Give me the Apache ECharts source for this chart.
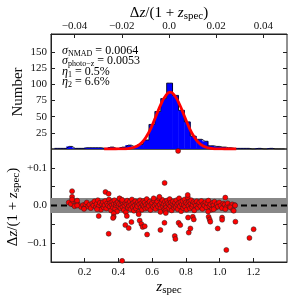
<!DOCTYPE html>
<html><head><meta charset="utf-8">
<script src="https://cdn.jsdelivr.net/npm/echarts@6/dist/echarts.min.js"></script>
<style>html,body{margin:0;padding:0;background:#fff}#c{width:299px;height:295px}</style>
</head><body><div id="c"></div>
<script>
// ---- Histogram (top panel) ----
const binWidth = 0.0025;
const binCenters = [-0.04725,-0.04475,-0.04225,-0.03975,-0.03725,-0.03475,-0.03225,-0.02975,-0.02725,-0.02475,
  -0.02225,-0.01975,-0.01725,-0.01475,-0.01225,-0.00975,-0.00725,-0.00475,-0.00225,0.00025,
  0.00275,0.00525,0.00775,0.01025,0.01275,0.01525,0.01775,0.02025,0.02275,0.02525,
  0.02775,0.03025,0.03275,0.03525,0.03775,0.04025,0.04275,0.04525,0.04775];
const binCounts = [1,1,4,1,1,2,2,2,1,3,
  1,3,6,4,7,14,38,58,78,102,
  83,60,42,20,15,12,5,4,3,2,
  1,1,1,0,1,0,1,0,0];
// Fitted gaussian curve
const fitX = [-0.0275,-0.0255,-0.0235,-0.0215,-0.0195,-0.0175,-0.0155,-0.0135,-0.0115,-0.0095,-0.0075,-0.0055,-0.0035,-0.0015,0.0005,
  0.0025,0.0045,0.0065,0.0085,0.0105,0.0125,0.0145,0.0165,0.0185,0.0205,0.0225,0.0245,0.0265,0.0285];
const fitY = [0,0.004,0.02,0.07,0.2,0.7,1.9,4.7,10.2,19.7,33.6,51.0,68.6,82.0,88,
  82.0,68.6,51.0,33.6,19.7,10.2,4.7,1.9,0.7,0.2,0.07,0.02,0.004,0];
const topTicks = [-0.04,-0.02,0,0.02,0.04];
const countTicks = [25,50,75,100,125,150];
const stats = [
  ['σ','NMAD',' = 0.0064'],
  ['σ','photo−z',' = 0.0053'],
  ['η','1',' = 0.5%'],
  ['η','2',' = 6.6%']
];
// ---- Scatter (bottom panel) ----
const zTicks = [0.2,0.4,0.6,0.8,1.0,1.2];
const dzTickMarks = [-0.1,-0.05,0,0.05,0.1];
const dzTickLabels = [-0.1,0,0.1];
const bandLimits = [-0.02, 0.02];
const zeroLine = [[0,0],[1.4,0]];
const scatterPoints = [
  [0.105,0.008],[0.118,0.004],[0.13,0.012],[0.14,-0.002],[0.152,0.009],[0.16,0.003],[0.178,-0.004],[0.19,0.001],[0.198,-0.006],
  [0.205,0.003],[0.212,0.008],[0.22,-0.003],[0.228,0.002],[0.236,-0.007],[0.245,0.006],[0.252,0.0],[0.258,0.011],[0.266,-0.004],
  [0.27,0.004],[0.278,0.014],[0.284,-0.001],[0.29,0.007],[0.296,-0.011],[0.302,0.003],[0.308,0.009],[0.312,-0.005],[0.318,0.001],
  [0.322,0.012],[0.328,-0.008],[0.332,0.005],[0.338,0.0],[0.344,0.016],[0.348,-0.003],[0.352,0.007],[0.356,-0.013],[0.36,0.002],
  [0.364,0.01],[0.368,-0.006],[0.372,0.004],[0.376,0.014],[0.38,-0.009],[0.384,0.001],[0.388,0.006],[0.392,-0.016],[0.396,0.009],
  [0.40,-0.002],[0.404,0.004],[0.408,0.018],[0.412,-0.007],[0.416,0.002],[0.42,0.011],[0.424,-0.004],[0.428,0.006],[0.432,-0.012],
  [0.436,0.0],[0.44,0.008],[0.444,-0.018],[0.448,0.003],[0.452,0.013],[0.456,-0.006],[0.46,0.005],[0.464,-0.001],[0.468,0.01],
  [0.472,-0.01],[0.476,0.002],[0.48,0.016],[0.484,-0.004],[0.488,0.007],[0.492,-0.014],[0.496,0.0],[0.50,0.011],[0.504,-0.008],
  [0.508,0.004],[0.512,-0.002],[0.516,0.009],[0.52,-0.017],[0.524,0.003],[0.528,0.014],[0.532,-0.005],[0.536,0.006],[0.54,-0.011],
  [0.544,0.001],[0.548,0.012],[0.552,-0.003],[0.556,0.008],[0.56,-0.008],[0.564,0.002],[0.568,0.017],[0.572,-0.006],[0.576,0.005],
  [0.58,-0.001],[0.585,0.01],[0.59,-0.012],[0.595,0.003],[0.60,0.007],[0.605,-0.004],[0.61,0.013],[0.615,0.0],[0.62,-0.009],
  [0.625,0.005],[0.63,0.011],[0.635,-0.003],[0.64,0.019],[0.645,0.002],[0.65,-0.007],[0.655,0.008],[0.66,0.015],[0.664,-0.002],
  [0.668,0.004],[0.672,-0.011],[0.676,0.01],[0.68,0.001],[0.684,-0.005],[0.688,0.013],[0.692,0.006],[0.696,-0.009],[0.70,0.003],
  [0.704,0.017],[0.708,-0.001],[0.712,0.008],[0.716,-0.013],[0.72,0.004],[0.724,0.011],[0.728,-0.006],[0.732,0.0],[0.736,0.007],
  [0.74,-0.004],[0.744,0.014],[0.748,0.002],[0.752,-0.01],[0.756,0.006],[0.76,0.019],[0.764,-0.002],[0.768,0.009],[0.772,-0.015],
  [0.776,0.003],[0.78,0.012],[0.784,-0.007],[0.788,0.001],[0.792,0.016],[0.796,-0.003],[0.80,0.008],[0.804,-0.011],[0.808,0.004],
  [0.812,0.021],[0.816,-0.001],[0.82,0.01],[0.824,-0.008],[0.828,0.005],[0.832,0.014],[0.836,-0.004],[0.84,0.002],[0.845,0.009],
  [0.85,-0.013],[0.855,0.006],[0.86,0.0],[0.865,0.011],[0.87,-0.006],[0.875,0.003],[0.88,0.008],[0.886,-0.002],[0.892,0.012],
  [0.898,-0.009],[0.904,0.004],[0.91,0.0],[0.916,0.009],[0.922,-0.005],[0.928,0.006],[0.934,0.013],[0.94,-0.002],[0.946,0.003],
  [0.952,-0.011],[0.958,0.007],[0.964,0.001],[0.97,0.01],[0.976,-0.006],[0.984,0.004],[0.99,-0.003],[0.998,0.008],[1.006,0.0],
  [1.014,-0.007],[1.022,0.005],[1.03,0.002],[1.04,-0.004],[1.048,0.006],[1.06,-0.002],[1.075,0.003],[1.09,0.001],
  // outliers
  [0.125,0.038],[0.125,0.023],[0.125,0.016],[0.155,0.013],[0.155,0.0],[0.196,-0.009],[0.273,-0.010],[0.283,-0.028],
  [0.323,0.036],[0.342,0.031],[0.342,-0.075],[0.372,-0.021],[0.372,-0.030],[0.368,-0.033],[0.406,0.019],[0.422,0.015],
  [0.422,-0.147],[0.441,-0.052],[0.461,-0.060],[0.477,-0.044],[0.45,-0.028],[0.520,-0.023],[0.526,-0.040],[0.536,-0.049],
  [0.544,-0.057],[0.556,-0.055],[0.570,-0.077],[0.609,0.019],[0.643,0.023],[0.649,-0.017],[0.649,-0.065],[0.674,0.060],
  [0.673,-0.046],[0.679,-0.015],[0.681,-0.020],[0.754,0.145],[0.734,-0.081],[0.738,-0.089],[0.757,-0.046],[0.767,-0.052],
  [0.811,0.028],[0.813,-0.032],[0.817,-0.072],[0.827,-0.061],[0.841,-0.030],[0.847,-0.037],[0.932,-0.016],[0.935,-0.030],
  [0.941,-0.037],[0.945,-0.043],[0.965,-0.010],[0.989,-0.061],[1.015,-0.032],[1.015,-0.038],[1.034,0.021],[1.034,-0.010],
  [1.040,-0.118],[1.064,-0.005],[1.080,-0.012],[1.084,-0.014],[1.094,-0.043],[1.092,0.0],[1.177,-0.086],[1.202,-0.063]
];

const FONT = '"Liberation Serif","DejaVu Serif",serif';
const chart = echarts.init(document.getElementById('c'), null, {renderer:'canvas'});
const G = {left:51, right:12};
const stepData = [[binCenters[0]-binWidth/2, binCounts[0]]].concat(
  binCenters.map((c,i)=>[c,binCounts[i]]),
  [[binCenters[binCenters.length-1]+binWidth/2, binCounts[binCounts.length-1]]]);
const labelStyle = {fontFamily:FONT, fontSize:11, color:'#111'};
const richSub = {
  g:{fontFamily:FONT,fontSize:12,fontStyle:'italic',color:'#111'},
  sub:{fontFamily:FONT,fontSize:8,color:'#111',padding:[6,0,0,0]},
  n:{fontFamily:FONT,fontSize:12,color:'#111'}
};
const richTitle = {
  n:{fontFamily:FONT,fontSize:15,color:'#111'},
  z:{fontFamily:FONT,fontSize:15,fontStyle:'italic',color:'#111'},
  sub:{fontFamily:FONT,fontSize:11,color:'#111',padding:[7,0,0,0]}
};
const fmtDz = v => v===0 ? '0.0' : (v<0?'−':'') + Math.abs(v).toFixed(2);
const fmtDz2 = v => v===0 ? '0.0' : (v<0?'−':'+') + Math.abs(v).toFixed(1);
const axLine = {show:true,onZero:false,lineStyle:{color:'#222'}};

const option = {
  animation:false,
  grid:[
    {left:G.left,right:G.right,top:34,height:115,show:true,borderColor:'#222',borderWidth:1,backgroundColor:'transparent'},
    {left:G.left,right:G.right,top:149,height:113,show:true,borderColor:'#222',borderWidth:1,backgroundColor:'transparent'}
  ],
  xAxis:[
    {type:'value',gridIndex:0,position:'top',min:-0.05,max:0.05,
     axisLine:axLine,splitLine:{show:false},
     axisTick:{inside:true,length:4,customValues:topTicks,lineStyle:{color:'#222'}},
     axisLabel:{customValues:topTicks,formatter:fmtDz,margin:2,...labelStyle}},
    {type:'value',gridIndex:1,position:'bottom',min:0,max:1.4,
     axisLine:axLine,splitLine:{show:false},
     axisTick:{inside:true,length:4,customValues:zTicks,lineStyle:{color:'#222'}},
     axisLabel:{customValues:zTicks,formatter:v=>v.toFixed(1),margin:5,...labelStyle}}
  ],
  yAxis:[
    {type:'value',gridIndex:0,min:0,max:178,
     axisLine:axLine,splitLine:{show:false},
     axisTick:{inside:true,length:4,customValues:countTicks,lineStyle:{color:'#222'}},
     axisLabel:{customValues:countTicks,margin:4,...labelStyle}},
    {type:'value',gridIndex:0,position:'right',min:0,max:178,
     axisLine:{show:false,onZero:false},splitLine:{show:false},
     axisTick:{inside:true,length:4,customValues:countTicks,lineStyle:{color:'#222'}},
     axisLabel:{show:false}},
    {type:'value',gridIndex:1,min:-0.15,max:0.15,
     axisLine:axLine,splitLine:{show:false},
     axisTick:{inside:true,length:4,customValues:dzTickMarks,lineStyle:{color:'#222'}},
     axisLabel:{customValues:dzTickLabels,formatter:fmtDz2,margin:4,...labelStyle}},
    {type:'value',gridIndex:1,position:'right',min:-0.15,max:0.15,
     axisLine:{show:false,onZero:false},splitLine:{show:false},
     axisTick:{inside:true,length:4,customValues:dzTickMarks,lineStyle:{color:'#222'}},
     axisLabel:{show:false}}
  ],
  series:[
    {type:'custom',xAxisIndex:0,yAxisIndex:0,clip:true,z:1,
     data:binCenters.map((c,i)=>[c,binCounts[i]]),
     renderItem:(params,api)=>{
       const c=api.value(0),h=api.value(1);
       const p0=api.coord([c-binWidth/2,h]);
       const p1=api.coord([c+binWidth/2,0]);
       return {type:'rect',shape:{x:p0[0],y:p0[1],width:p1[0]-p0[0]+0.4,height:p1[1]-p0[1]},style:{fill:'#0000ff'}};
     }},
    {type:'line',xAxisIndex:0,yAxisIndex:0,step:'middle',data:stepData,showSymbol:false,symbol:'none',z:2,clip:true,
     lineStyle:{color:'#000',width:0.8}},
    {type:'line',xAxisIndex:0,yAxisIndex:0,data:fitX.map((x,i)=>[x,fitY[i]]),smooth:true,symbol:'none',z:3,clip:true,
     lineStyle:{color:'#ff0000',width:2.8}},
    {type:'custom',xAxisIndex:1,yAxisIndex:2,z:1,data:[[0,bandLimits[0],1.4,bandLimits[1]]],
     renderItem:(params,api)=>{
       const a=api.coord([api.value(0),api.value(3)]);
       const b=api.coord([api.value(2),api.value(1)]);
       return {type:'rect',shape:{x:a[0],y:a[1],width:b[0]-a[0],height:b[1]-a[1]},style:{fill:'#888888'}};
     }},
    {type:'line',xAxisIndex:1,yAxisIndex:2,data:zeroLine,symbol:'none',z:2,
     lineStyle:{color:'#000',width:2,type:[6,4]}},
    {type:'scatter',xAxisIndex:1,yAxisIndex:2,data:scatterPoints,symbolSize:5,z:3,clip:false,
     itemStyle:{color:'#ff0000',borderColor:'#222',borderWidth:0.5,opacity:1}}
  ],
  graphic:[
    {type:'text',x:169,y:13,style:{text:'{n|Δ}{z|z}{n|/(1 + }{z|z}{sub|spec}{n|)}',rich:richTitle,align:'center',verticalAlign:'middle'}},
    {type:'text',x:169,y:287,style:{text:'{z|z}{sub|spec}',rich:richTitle,align:'center',verticalAlign:'middle'}},
    {type:'text',x:18,y:92,rotation:Math.PI/2,style:{text:'Number',font:'15px '+FONT,fill:'#111',align:'center',verticalAlign:'middle'}},
    {type:'text',x:13,y:207,rotation:Math.PI/2,style:{text:'{n|Δ}{z|z}{n|/(1 + }{z|z}{sub|spec}{n|)}',rich:richTitle,align:'center',verticalAlign:'middle'}}
  ].concat(stats.map((s,i)=>({type:'text',x:62,y:51+i*10.3,
     style:{text:'{g|'+s[0]+'}{sub|'+s[1]+'}{n|'+s[2]+'}',rich:richSub,align:'left',verticalAlign:'middle'}})))
};
chart.setOption(option);
</script></body></html>
